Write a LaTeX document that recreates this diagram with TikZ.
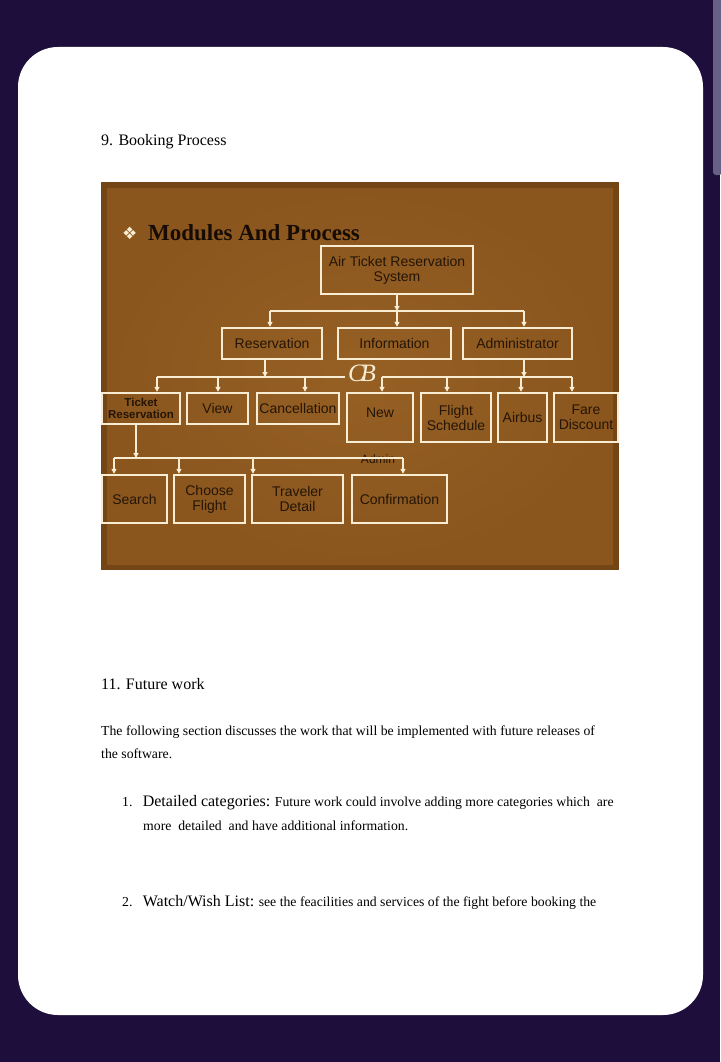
\documentclass[tikz,border=0pt]{standalone}
\usepackage{fontspec}
\setmainfont{Liberation Serif}
\newfontfamily\arialf{Liberation Sans}
\newfontfamily\symf{DejaVu Sans}
\usetikzlibrary{arrows.meta,positioning}
\definecolor{pagebg}{RGB}{29,14,59}
\definecolor{scrollgray}{RGB}{104,97,134}
\definecolor{slidedark}{RGB}{116,70,22}
\definecolor{slidebrown}{RGB}{138,86,30}
\definecolor{slidelight}{RGB}{150,96,36}
\definecolor{boxline}{RGB}{248,236,210}
\definecolor{boxtext}{RGB}{36,21,6}
\definecolor{titleink}{RGB}{22,12,4}

\begin{document}
\begin{tikzpicture}[x=1pt,y=-1pt,
      bx/.style={rectangle, draw=boxline, line width=2.4pt, text=boxtext,
                 font=\arialf\fontsize{14}{15}\selectfont, align=center, inner sep=0pt},
      ln/.style={draw=boxline, line width=2pt},
      arr/.style={ln, -{Triangle[length=5pt,width=5pt]}},
      para/.style={anchor=base west, inner sep=0pt, font=\fontsize{13.75}{15}\selectfont}]
    % page and card
    \useasboundingbox (0,0) rectangle (720,1062);
    \fill[pagebg] (0,0) rectangle (720,1062);
    \fill[white, rounded corners=40pt] (18,47) rectangle (703,1015);
    \fill[scrollgray, rounded corners=3pt] (713,-5) rectangle (722,175);

    \node[anchor=base west, inner sep=0pt, font=\fontsize{16}{18}\selectfont] (h9) at (101,145) {9. Booking Process};

    % slide
    \fill[slidedark] (101,182) rectangle (619,570);
    \shade[inner color=slidelight, outer color=slidebrown] (107,188) rectangle (613,564);
    \node[anchor=base west, inner sep=0pt, text=boxline, font=\symf\fontsize{17}{18}\selectfont] (dia) at (122,239) {❖};
    \node[anchor=base west, inner sep=0pt, text=titleink, font=\bfseries\fontsize{23}{24}\selectfont] (title) at (148,240) {Modules And Process};

    % boxes
    \node[bx, minimum width=152pt, minimum height=48pt] (ats) at (397,270) {Air Ticket Reservation\\System};
    \node[bx, minimum width=100pt, minimum height=31pt] (res) at (272,343.5) {Reservation};
    \node[bx, minimum width=113pt, minimum height=31pt] (inf) at (394.5,343.5) {Information};
    \node[bx, minimum width=109pt, minimum height=31pt] (adm) at (517.5,343.5) {Administrator};

    \node[bx, minimum width=78pt, minimum height=31pt, font=\arialf\bfseries\fontsize{11.5}{11.5}\selectfont] (tres) at (141,408.5) {Ticket\\Reservation};
    \node[bx, minimum width=61pt, minimum height=31pt] (view) at (217.5,408.5) {View};
    \node[bx, minimum width=82pt, minimum height=31pt] (canc) at (298,408.5) {Cancellation};
    \node[bx, minimum width=66pt, minimum height=49pt] (new) at (380,417.5) {\raisebox{10pt}{New}};
    \node[bx, minimum width=70pt, minimum height=49pt] (fsch) at (456,417.5) {Flight\\Schedule};
    \node[bx, minimum width=49pt, minimum height=49pt] (air) at (522.5,417.5) {Airbus};
    \node[bx, minimum width=64pt, minimum height=49pt] (fare) at (586,417.5) {Fare\\Discount};

    \node[bx, minimum width=65pt, minimum height=48pt] (srch) at (134.5,499) {Search};
    \node[bx, minimum width=71pt, minimum height=48pt] (chf) at (209.5,499) {Choose\\Flight};
    \node[bx, minimum width=91pt, minimum height=48pt] (trd) at (297.5,499) {Traveler\\Detail};
    \node[bx, minimum width=95pt, minimum height=48pt] (conf) at (399.5,499) {Confirmation};

    % leftover label and ornament
    \node[inner sep=0pt, text=boxtext, font=\arialf\fontsize{12}{13}\selectfont] (admlbl) at (378,459) {Admin};
    \node[inner sep=0pt, text=boxline, font=\itshape\fontsize{25}{25}\selectfont] (orn) at (362,373) {C\kern-4pt B};

    % connectors
    \coordinate (b1) at (397,311);
    \coordinate (b1l) at (270,311);
    \coordinate (b1r) at (524,311);
    \draw[arr] (ats) -- (b1);
    \draw[ln] (b1l) -- (b1r);
    \draw[arr] (b1l) -- (res.north -| b1l);
    \draw[arr] (b1) -- (inf.north -| b1);
    \draw[arr] (b1r) -- (adm.north -| b1r);

    \coordinate (b2) at (265,377);
    \coordinate (b2l) at (157,377);
    \coordinate (b2m) at (218,377);
    \coordinate (b2c) at (305,377);
    \coordinate (b2r) at (345,377);
    \draw[arr] (res.south -| b2) -- (b2);
    \draw[ln] (b2l) -- (b2r);
    \draw[arr] (b2l) -- (tres.north -| b2l);
    \draw[arr] (b2m) -- (view.north -| b2m);
    \draw[arr] (b2c) -- (canc.north -| b2c);

    \coordinate (b3) at (524,377);
    \coordinate (b3l) at (382,377);
    \coordinate (b3f) at (447,377);
    \coordinate (b3a) at (521,377);
    \coordinate (b3r) at (572,377);
    \draw[arr] (adm.south -| b3) -- (b3);
    \draw[ln] (b3l) -- (b3r);
    \draw[arr] (b3l) -- (new.north -| b3l);
    \draw[arr] (b3f) -- (fsch.north -| b3f);
    \draw[arr] (b3a) -- (air.north -| b3a);
    \draw[arr] (b3r) -- (fare.north -| b3r);

    \coordinate (b4) at (136,458);
    \coordinate (b4l) at (114,458);
    \coordinate (b4c) at (179,458);
    \coordinate (b4t) at (253,458);
    \coordinate (b4r) at (403,458);
    \draw[arr] (tres.south -| b4) -- (b4);
    \draw[ln] (b4l) -- (b4r);
    \draw[arr] (b4l) -- (srch.north -| b4l);
    \draw[arr] (b4c) -- (chf.north -| b4c);
    \draw[arr] (b4t) -- (trd.north -| b4t);
    \draw[arr] (b4r) -- (conf.north -| b4r);

    % text below the slide
    \node[anchor=base west, inner sep=0pt, font=\fontsize{16}{18}\selectfont] (h11) at (101,689) {11. Future work};
    \node[para] (p1) at (101,735) {The following section discusses the work that will be implemented with future releases of};
    \node[para] (p2) at (101,758) {the software.};
    \node[para] (i1) at (122,806) {1.\ \ \ {\fontsize{16}{17}\selectfont Detailed categories:} Future work could involve adding more categories which\ \ are};
    \node[para] (i1b) at (143,830) {more\ \ detailed\ \ and have additional information.};
    \node[para] (i2) at (122,906) {2.\ \ \ {\fontsize{16}{17}\selectfont Watch/Wish List:} see the feacilities and services of the fight before booking the};
\end{tikzpicture}
\end{document}
